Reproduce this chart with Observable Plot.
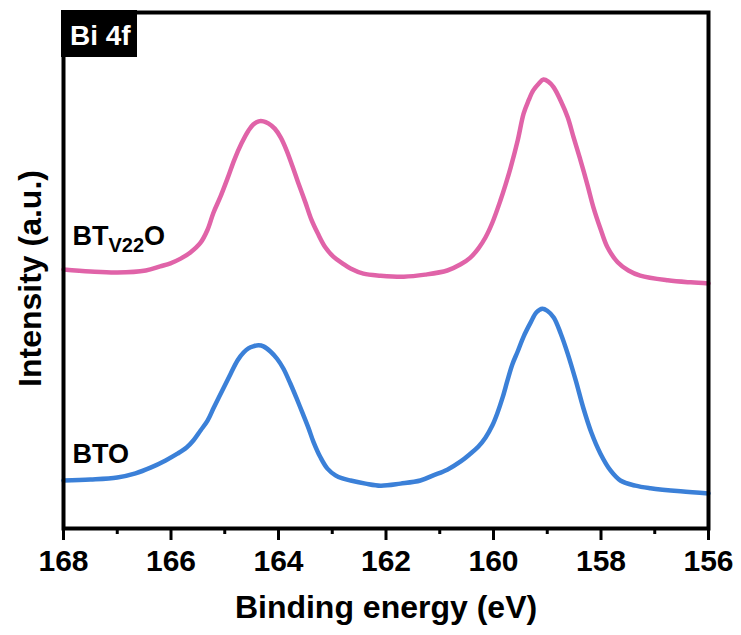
<!DOCTYPE html>
<html>
<head>
<meta charset="utf-8">
<script src="https://cdn.jsdelivr.net/npm/d3@7"></script>
<script src="https://cdn.jsdelivr.net/npm/@observablehq/plot@0.6"></script>
<style>
  html, body { margin: 0; padding: 0; background: #fff; }
  #chart svg { display: block; }
</style>
</head>
<body>
<div id="chart"></div>
<script>
// Binding energy (eV) and intensity (a.u., offset traces)
const energyPink = [168.00,167.50,167.00,166.47,166.20,166.01,165.82,165.64,165.45,165.32,
  165.21,165.08,164.95,164.82,164.69,164.56,164.47,164.37,164.28,164.19,
  164.07,163.96,163.85,163.74,163.63,163.50,163.39,163.27,163.13,162.98,
  162.81,162.66,162.42,162.10,161.67,161.27,160.86,160.61,160.43,160.28,
  160.15,160.02,159.87,159.78,159.68,159.55,159.44,159.35,159.26,159.16,
  159.07,158.98,158.88,158.75,158.62,158.51,158.38,158.25,158.14,158.01,
  157.88,157.69,157.49,157.27,156.76,156.33,156.00];
const intensityPink = [50.2,49.8,49.6,50.0,50.8,51.4,52.3,53.5,55.4,57.9,
  61.2,64.3,67.8,71.5,74.6,77.1,78.3,78.9,78.9,78.5,
  77.5,75.8,73.3,70.2,66.9,63.2,59.9,57.2,54.5,52.7,
  51.4,50.4,49.4,49.0,48.8,49.2,50.0,51.2,52.5,54.3,
  56.4,59.3,63.6,66.5,70.0,75.2,80.4,82.9,84.9,86.2,
  87.0,86.6,85.5,82.9,79.7,75.8,71.3,66.5,62.2,58.1,
  54.5,51.6,50.0,49.0,48.1,47.7,47.5];

const energyBlue = [168.00,167.50,167.00,166.66,166.38,166.10,165.88,165.71,165.58,165.45,
  165.32,165.21,165.12,165.02,164.89,164.76,164.65,164.56,164.47,164.37,
  164.28,164.15,164.02,163.91,163.78,163.67,163.55,163.44,163.35,163.22,
  163.09,162.94,162.81,162.66,162.38,162.10,161.73,161.36,161.12,160.86,
  160.61,160.43,160.28,160.15,160.02,159.93,159.83,159.74,159.65,159.55,
  159.44,159.31,159.20,159.09,159.00,158.88,158.75,158.62,158.47,158.33,
  158.18,158.01,157.82,157.64,157.36,157.08,156.52,156.00];
const intensityBlue = [9.3,9.5,9.9,10.7,11.8,13.2,14.5,15.7,17.1,19.0,
  20.9,23.3,25.2,27.3,30.0,32.6,34.1,34.9,35.3,35.5,
  35.3,34.3,32.8,31.0,28.1,25.4,22.3,19.4,16.8,13.8,
  11.6,10.3,9.7,9.3,8.7,8.3,8.7,9.3,10.3,11.4,
  13.0,14.5,15.9,17.6,20.0,22.3,25.4,28.7,31.8,34.3,
  37.2,39.9,41.9,42.6,42.2,40.9,37.8,33.9,28.7,23.4,
  18.6,14.5,11.2,9.3,8.3,7.8,7.2,6.8];

const majorTicks = [168, 166, 164, 162, 160, 158, 156];
const minorTicks = [167, 165, 163, 161, 159, 157];
const seriesNames = ["BTV22O", "BTO"];
const panelLabel = "Bi 4f";
const xTitle = "Binding energy (eV)";
const yTitle = "Intensity (a.u.)";

const pink = "#e063a8";
const blue = "#3b80d8";

const pinkData = energyPink.map((e, i) => ({e, v: intensityPink[i]}));
const blueData = energyBlue.map((e, i) => ({e, v: intensityBlue[i]}));
const labelData = [
  {name: seriesNames[0], e: energyPink[0], v: intensityPink[0]},
  {name: seriesNames[1], e: energyBlue[0], v: intensityBlue[0]}
];

const font = "'Liberation Sans', Arial, Helvetica, sans-serif";

const chart = Plot.plot({
  width: 741,
  height: 635,
  marginLeft: 63,
  marginRight: 33,
  marginTop: 12,
  marginBottom: 107,
  style: {fontFamily: font, fontWeight: "bold", fontSize: "30px", color: "black", background: "white"},
  x: {domain: [168, 156], axis: null},
  y: {domain: [0, 100], axis: null},
  marks: [
    Plot.line(pinkData, {x: "e", y: "v", stroke: pink, strokeWidth: 4.5, curve: "catmull-rom"}),
    Plot.line(blueData, {x: "e", y: "v", stroke: blue, strokeWidth: 4.5, curve: "catmull-rom"}),
    Plot.axisX(majorTicks, {anchor: "bottom", tickSize: 12, tickPadding: 9, strokeWidth: 3, fontSize: 30, fontWeight: "bold", fontFamily: font, label: null, tickFormat: d => String(d)}),
    Plot.axisX(minorTicks, {anchor: "bottom", tickSize: 6, strokeWidth: 3, label: null, tickFormat: () => ""}),
    Plot.frame({stroke: "black", strokeWidth: 4}),
    Plot.text([labelData[0]], {x: "e", y: "v", text: "name", textAnchor: "start", lineAnchor: "middle", dx: 9, dy: -33, fontSize: 27, fontWeight: "bold", fontFamily: font, fill: "black"}),
    Plot.text([labelData[1]], {x: "e", y: "v", text: "name", textAnchor: "start", lineAnchor: "middle", dx: 9, dy: -26, fontSize: 27, fontWeight: "bold", fontFamily: font, fill: "black"}),
    Plot.text([xTitle], {frameAnchor: "bottom", textAnchor: "middle", lineAnchor: "middle", dy: 79, fontSize: 32, fontWeight: "bold", fontFamily: font, fill: "black"}),
    Plot.text([yTitle], {frameAnchor: "left", textAnchor: "middle", lineAnchor: "middle", dx: -33, dy: 8, rotate: -90, fontSize: 32, fontWeight: "bold", fontFamily: font, fill: "black"})
  ]
});

document.getElementById("chart").appendChild(chart);

// subscript for BT_V22 O
const svg = d3.select(chart);
svg.selectAll("text").filter(function() { return this.textContent === seriesNames[0]; }).each(function() {
  const t = d3.select(this);
  t.text(null);
  t.append("tspan").text("BT");
  t.append("tspan").attr("font-size", 20).attr("dy", 7).text("V22");
  t.append("tspan").attr("font-size", 27).attr("dy", -7).text("O");
});

// panel label box "Bi 4f" in the top-left corner of the frame
const g = svg.append("g");
g.append("rect").attr("x", 61).attr("y", 10).attr("width", 76).attr("height", 47).attr("fill", "black");
g.append("text").attr("x", 70).attr("y", 45).attr("fill", "white").attr("text-anchor", "start")
  .attr("font-family", font).attr("font-weight", "bold").attr("font-size", 28).text(panelLabel);
</script>
</body>
</html>
